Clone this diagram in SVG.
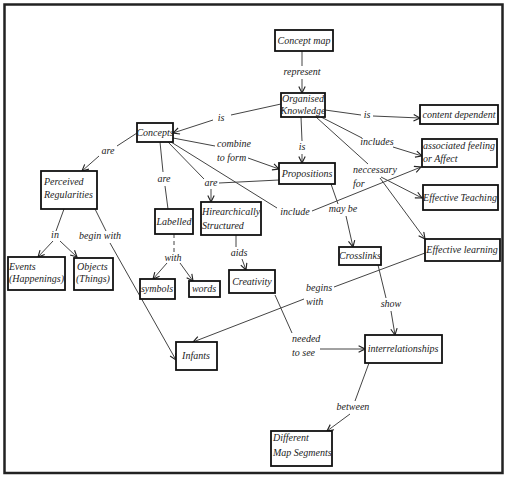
<svg xmlns="http://www.w3.org/2000/svg" width="508" height="481" viewBox="0 0 508 481">
<style>
.box{fill:#fff;stroke:#111;stroke-width:1.8}
.t{font-family:"Liberation Serif","DejaVu Serif",serif;font-style:italic;font-size:10px;fill:#222}
.c{text-anchor:middle}
.ln{fill:none;stroke:#444;stroke-width:1}
.arr{marker-end:url(#ah)}
.dash{stroke-dasharray:4 3}
</style>
<defs>
<marker id="ah" viewBox="0 0 10 10" refX="9" refY="5" markerWidth="8" markerHeight="8" markerUnits="userSpaceOnUse" orient="auto">
<path d="M1,1 L9,5 L1,9" fill="none" stroke="#222" stroke-width="1.4"/>
</marker>
</defs>
<rect x="0" y="0" width="508" height="481" fill="#fff"/>
<rect x="4.5" y="4.5" width="498" height="468.5" fill="none" stroke="#222" stroke-width="2.5"/>

<g id="connectors">
<path class="ln" d="M302,51 V66"/><path class="ln arr" d="M302,79 V93"/>
<path class="ln" d="M281,104 L231,115"/><path class="ln arr" d="M213,120 L173,133"/>
<path class="ln" d="M325,110 L361,115"/><path class="ln arr" d="M373,116 L420,118"/>
<path class="ln" d="M321,117 L362,138"/><path class="ln arr" d="M393,147 L422,156"/>
<path class="ln" d="M316,117 L368,164"/><path class="ln arr" d="M380,178 L425,239"/>
<path class="ln arr" d="M381,177 L422,198"/>
<path class="ln" d="M301,117 L302,141"/><path class="ln arr" d="M302,154 L302,163"/>
<path class="ln" d="M173,138 L215,146"/><path class="ln arr" d="M248,158 L279,169"/>
<path class="ln" d="M168,142 L204,179"/><path class="ln arr" d="M211,189 L211,202"/>
<path class="ln" d="M279,180 L219,183"/>
<path class="ln" d="M171,142 L277,208"/><path class="ln arr" d="M312,211 L421,167"/>
<path class="ln" d="M137,133 L117,146"/><path class="ln arr" d="M99,156 L82,171"/>
<path class="ln" d="M160,142 L163,172"/><path class="ln" d="M165,186 L168,209"/>
<path class="ln dash" d="M174,234 L174,252"/>
<path class="ln arr" d="M167,263 L153,279"/><path class="ln arr" d="M180,263 L193,281"/>
<path class="ln" d="M236,235 L236,247"/><path class="ln arr" d="M242,259 L246,270"/>
<path class="ln" d="M64,209 L56,231"/><path class="ln arr" d="M53,241 L38,257"/><path class="ln arr" d="M60,241 L77,257"/>
<path class="ln" d="M95,209 L106,231"/><path class="ln arr" d="M110,243 L176,360"/>
<path class="ln" d="M425,253 L334,287"/><path class="ln arr" d="M304,299 L193,342"/>
<path class="ln" d="M275,295 L292,333"/><path class="ln arr" d="M320,349 L365,349"/>
<path class="ln" d="M331,184 L338,204"/><path class="ln arr" d="M346,216 L353,247"/>
<path class="ln" d="M378,265 L386,298"/><path class="ln arr" d="M391,311 L395,335"/>
<path class="ln" d="M369,363 L355,401"/><path class="ln arr" d="M350,414 L327,431"/>
</g>

<g id="labels">
<text class="t c" x="302" y="75">represent</text>
<text class="t c" x="221" y="121">is</text>
<text class="t c" x="367" y="118">is</text>
<text class="t c" x="377" y="145">includes</text>
<text class="t c" x="302" y="150">is</text>
<text class="t" x="217" y="147">combine</text>
<text class="t" x="217" y="161">to form</text>
<text class="t c" x="108" y="154">are</text>
<text class="t c" x="164" y="182">are</text>
<text class="t c" x="211" y="186">are</text>
<text class="t c" x="295" y="215">include</text>
<text class="t" x="353" y="173">neccessary</text>
<text class="t" x="353" y="187">for</text>
<text class="t c" x="343" y="212">may be</text>
<text class="t c" x="55" y="238">in</text>
<text class="t c" x="100" y="239">begin with</text>
<text class="t c" x="173" y="261">with</text>
<text class="t c" x="239" y="256">aids</text>
<text class="t" x="306" y="291">begins</text>
<text class="t" x="306" y="305">with</text>
<text class="t" x="292" y="342">needed</text>
<text class="t" x="292" y="356">to see</text>
<text class="t c" x="391" y="307">show</text>
<text class="t c" x="353" y="410">between</text>
</g>

<g id="concept-map"><rect class="box" x="275" y="30" width="58" height="21"/><text class="t c" x="304" y="44">Concept map</text></g>
<g id="organised-knowledge"><rect class="box" x="281" y="93" width="44" height="24"/><text class="t c" x="303" y="102">Organised</text><text class="t c" x="303" y="114">Knowledge</text></g>
<g id="content-dependent"><rect class="box" x="420" y="105" width="78" height="19"/><text class="t c" x="459" y="118">content dependent</text></g>
<g id="associated-feeling"><rect class="box" x="422" y="139" width="75" height="28"/><text class="t" x="423" y="149">associated feeling</text><text class="t" x="423" y="162">or Affect</text></g>
<g id="effective-teaching"><rect class="box" x="423" y="185" width="75" height="25"/><text class="t c" x="460" y="201">Effective Teaching</text></g>
<g id="effective-learning"><rect class="box" x="425" y="239" width="75" height="22"/><text class="t c" x="462" y="253">Effective learning</text></g>
<g id="concepts"><rect class="box" x="137" y="123" width="36" height="19"/><text class="t c" x="155" y="136">Concepts</text></g>
<g id="propositions"><rect class="box" x="279" y="163" width="56" height="21"/><text class="t c" x="307" y="177">Propositions</text></g>
<g id="perceived-regularities"><rect class="box" x="41" y="171" width="56" height="38"/><text class="t" x="44" y="185">Perceived</text><text class="t" x="44" y="198">Regularities</text></g>
<g id="labelled"><rect class="box" x="155" y="209" width="38" height="25"/><text class="t c" x="174" y="225">Labelled</text></g>
<g id="hirearchically-structured"><rect class="box" x="201" y="202" width="60" height="33"/><text class="t" x="202" y="215">Hirearchically</text><text class="t" x="202" y="229">Structured</text></g>
<g id="events"><rect class="box" x="8" y="257" width="57" height="33"/><text class="t" x="9" y="270">Events</text><text class="t" x="9" y="282">(Happenings)</text></g>
<g id="objects"><rect class="box" x="74" y="258" width="39" height="32"/><text class="t" x="77" y="270">Objects</text><text class="t" x="76" y="282">(Things)</text></g>
<g id="symbols"><rect class="box" x="140" y="279" width="35" height="20"/><text class="t c" x="157" y="292">symbols</text></g>
<g id="words"><rect class="box" x="189" y="281" width="31" height="16"/><text class="t c" x="204" y="292">words</text></g>
<g id="creativity"><rect class="box" x="229" y="270" width="46" height="23"/><text class="t c" x="252" y="285">Creativity</text></g>
<g id="crosslinks"><rect class="box" x="339" y="247" width="42" height="18"/><text class="t c" x="360" y="259">Crosslinks</text></g>
<g id="infants"><rect class="box" x="176" y="342" width="41" height="28"/><text class="t c" x="196" y="359">Infants</text></g>
<g id="interrelationships"><rect class="box" x="365" y="335" width="77" height="28"/><text class="t c" x="403" y="352">interrelationships</text></g>
<g id="different-map-segments"><rect class="box" x="271" y="431" width="61" height="35"/><text class="t" x="273" y="441">Different</text><text class="t" x="273" y="456">Map Segments</text></g>
</svg>
